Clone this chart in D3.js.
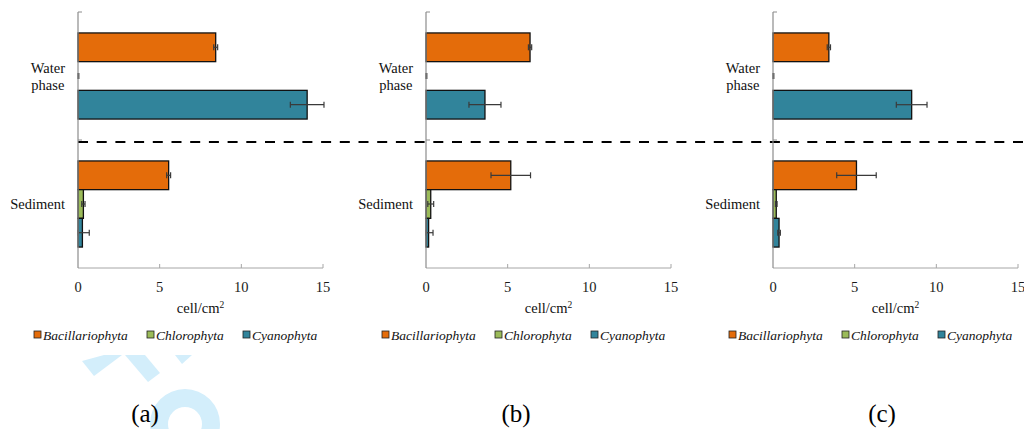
<!DOCTYPE html>
<html><head><meta charset="utf-8">
<script src="https://cdn.jsdelivr.net/npm/d3@7/dist/d3.min.js"></script>
<style>
html,body{margin:0;padding:0;background:#fff;}
svg{display:block;}
</style></head>
<body><svg id="c" width="1024" height="429"></svg>
<script>
// ---- data ----
const categories = ["Water phase", "Sediment"];
const seriesNames = ["Bacillariophyta", "Chlorophyta", "Cyanophyta"];
const panelNames = ["(a)", "(b)", "(c)"];
const xTicks = [0, 5, 10, 15];

// values per panel: [Water phase, Sediment]
const bacA = [8.43, 5.55], chlA = [0.0, 0.33], cyaA = [14.03, 0.27];
const bacAerr = [0.12, 0.12], chlAerr = [0.05, 0.1], cyaAerr = [1.03, 0.42];
const bacB = [6.37, 5.19], chlB = [0.0, 0.29], cyaB = [3.61, 0.16];
const bacBerr = [0.1, 1.21], chlBerr = [0.05, 0.18], cyaBerr = [0.98, 0.27];
const bacC = [3.42, 5.11], chlC = [0.0, 0.2], cyaC = [8.49, 0.37];
const bacCerr = [0.1, 1.21], chlCerr = [0.05, 0.05], cyaCerr = [0.94, 0.08];

const colors = ["#E46C0A", "#9BBB59", "#31849B"];
const FONT = "'Liberation Serif'";

const panels = [
  {name: panelNames[0], x0: 78, vals: [bacA, chlA, cyaA], errs: [bacAerr, chlAerr, cyaAerr], labelX: 145},
  {name: panelNames[1], x0: 426, vals: [bacB, chlB, cyaB], errs: [bacBerr, chlBerr, cyaBerr], labelX: 516},
  {name: panelNames[2], x0: 773, vals: [bacC, chlC, cyaC], errs: [bacCerr, chlCerr, cyaCerr], labelX: 882}
];

const svg = d3.select("#c");
const plotW = 245, yTop = 12, yBot = 268;

function txt(sel) { return sel.append("text").style("font-family", FONT); }

// watermark (light blue)
const wm = svg.append("g").attr("fill", "#d3eefb");
wm.append("polygon").attr("points", "82,361 94,376 122,355 104,355");
wm.append("polygon").attr("points", "125,355 148,382 160,373 145,355");
wm.append("polygon").attr("points", "175,355 182,364 192,355");
wm.append("path").attr("transform", "translate(185,424)")
  .attr("d", d3.arc()({innerRadius: 17, outerRadius: 35, startAngle: 0, endAngle: 2 * Math.PI}));

// dashed separator
svg.append("line").attr("x1", 78).attr("x2", 1024).attr("y1", 142).attr("y2", 142)
  .attr("stroke", "#000").attr("stroke-width", 2).attr("stroke-dasharray", "10,8.7");

panels.forEach(p => {
  const g = svg.append("g");
  const x = d3.scaleLinear().domain([0, 15]).range([p.x0, p.x0 + plotW]);
  const yCat = d3.scaleBand().domain(categories).range([yTop, yBot]).padding(0);
  const ySer = d3.scaleBand().domain(seriesNames).range([0, yCat.bandwidth()]).paddingInner(0).paddingOuter(0.73);

  // axes
  g.append("line").attr("x1", x(0)).attr("x2", x(15)).attr("y1", yBot).attr("y2", yBot)
    .attr("stroke", "#a6a6a6").attr("stroke-width", 1);
  xTicks.slice(1).forEach(t => {
    g.append("line").attr("x1", x(t)).attr("x2", x(t)).attr("y1", yBot - 4).attr("y2", yBot)
      .attr("stroke", "#a6a6a6");
  });
  xTicks.forEach(d => {
    txt(g).attr("x", x(d)).attr("y", 292).attr("text-anchor", "middle")
      .attr("font-size", 14.5).attr("fill", "#1a1a1a").text(d);
  });

  // bars
  seriesNames.forEach((s, si) => {
    categories.forEach((c, ci) => {
      const v = p.vals[si][ci], e = p.errs[si][ci];
      const by = yCat(c) + ySer(s), bh = ySer.bandwidth();
      if (v > 0) {
        g.append("rect").attr("x", x(0)).attr("y", by).attr("width", x(v) - x(0)).attr("height", bh)
          .attr("fill", colors[si]).attr("stroke", "#111").attr("stroke-width", 1.3);
      }
      const cy = by + bh / 2;
      const lo = Math.max(0, v - e), hi = v + e;
      const eg = g.append("g").attr("stroke", "#3a3a3a").attr("stroke-width", 1.2);
      eg.append("line").attr("x1", x(lo)).attr("x2", x(hi)).attr("y1", cy).attr("y2", cy);
      [lo, hi].forEach(t => eg.append("line").attr("x1", x(t)).attr("x2", x(t)).attr("y1", cy - 3).attr("y2", cy + 3));
    });
  });

  // y axis
  g.append("line").attr("x1", x(0)).attr("x2", x(0)).attr("y1", yTop).attr("y2", yBot)
    .attr("stroke", "#8c8c8c").attr("stroke-width", 1.2);
  [yTop, yCat("Sediment")].forEach(t => g.append("line").attr("x1", x(0)).attr("x2", x(0) + 4)
    .attr("y1", t).attr("y2", t).attr("stroke", "#8c8c8c"));

  // category labels
  categories.forEach(c => {
    const cy = yCat(c) + yCat.bandwidth() / 2;
    const lines = c === "Water phase" ? ["Water", "phase"] : [c];
    const t = txt(g).attr("font-size", 14.5).attr("fill", "#111");
    const rightEdge = x(0) - 13;
    const spans = lines.map((l, i) => t.append("tspan").text(l)
      .attr("y", cy + 5 + (i - (lines.length - 1) / 2) * 17));
    const w = d3.max(spans, sp => sp.node().getComputedTextLength());
    spans.forEach(sp => sp.attr("x", rightEdge - w / 2).attr("text-anchor", "middle"));
  });

  // x-axis title
  const tt = txt(g).attr("x", x(7.5)).attr("y", 313).attr("text-anchor", "middle")
    .attr("font-size", 14.5).attr("fill", "#111");
  tt.append("tspan").text("cell/cm");
  tt.append("tspan").text("2").attr("font-size", 9.5).attr("dy", -5);

  // legend
  const legOff = [-44, 69, 165];
  seriesNames.forEach((s, si) => {
    const lx = x(0) + legOff[si];
    g.append("rect").attr("x", lx).attr("y", 331).attr("width", 7).attr("height", 7)
      .attr("fill", colors[si]).attr("stroke", "#222").attr("stroke-width", 0.8);
    txt(g).attr("x", lx + 9).attr("y", 339.5).attr("font-size", 13.5)
      .attr("font-style", "italic").attr("fill", "#111").text(s);
  });

  // panel label
  txt(svg).attr("x", p.labelX).attr("y", 422).attr("text-anchor", "middle")
    .attr("font-size", 25).attr("fill", "#000").text(p.name);
});
</script></body></html>
